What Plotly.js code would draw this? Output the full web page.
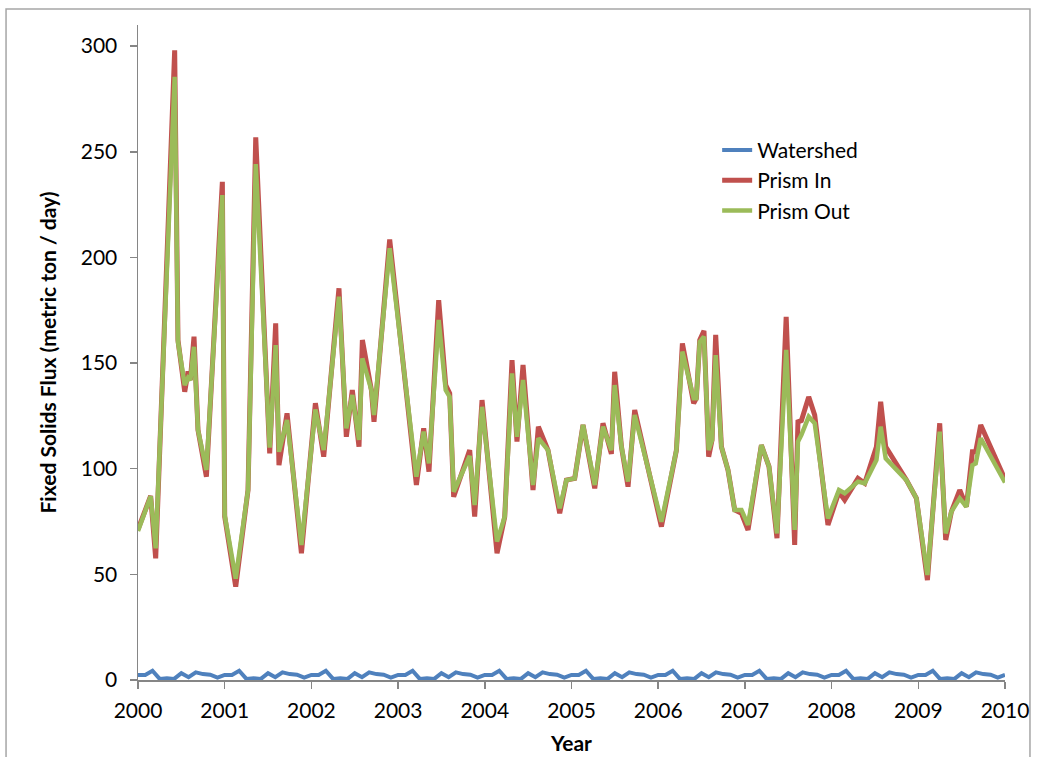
<!DOCTYPE html>
<html>
<head>
<meta charset="utf-8">
<script src="https://cdn.plot.ly/plotly-3.0.1.min.js"></script>
<style>
  html, body { margin: 0; padding: 0; background: #ffffff; }
  #chart { width: 1037px; height: 757px; }
</style>
</head>
<body>
<div id="chart"></div>
<script>
// ---- Data ----
const seriesNames = ["Watershed", "Prism In", "Prism Out"];
const yearTicks = [2000, 2001, 2002, 2003, 2004, 2005, 2006, 2007, 2008, 2009, 2010];
const fluxTicks = [0, 50, 100, 150, 200, 250, 300];

// Watershed: monthly values, Jan 2000 .. Jan 2010
const watershedX = [];
for (let i = 0; i <= 120; i++) watershedX.push(2000 + i / 12);
const watershedY = [
  2.4, 2.4, 4.4, 0.5, 0.8, 0.5, 3.2, 1.3, 3.6, 2.8, 2.5, 1.1,
  2.4, 2.4, 4.4, 0.5, 0.8, 0.5, 3.2, 1.3, 3.6, 2.8, 2.5, 1.1,
  2.4, 2.4, 4.4, 0.5, 0.8, 0.5, 3.2, 1.3, 3.6, 2.8, 2.5, 1.1,
  2.4, 2.4, 4.4, 0.5, 0.8, 0.5, 3.2, 1.3, 3.6, 2.8, 2.5, 1.1,
  2.4, 2.4, 4.4, 0.5, 0.8, 0.5, 3.2, 1.3, 3.6, 2.8, 2.5, 1.1,
  2.4, 2.4, 4.4, 0.5, 0.8, 0.5, 3.2, 1.3, 3.6, 2.8, 2.5, 1.1,
  2.4, 2.4, 4.4, 0.5, 0.8, 0.5, 3.2, 1.3, 3.6, 2.8, 2.5, 1.1,
  2.4, 2.4, 4.4, 0.5, 0.8, 0.5, 3.2, 1.3, 3.6, 2.8, 2.5, 1.1,
  2.4, 2.4, 4.4, 0.5, 0.8, 0.5, 3.2, 1.3, 3.6, 2.8, 2.5, 1.1,
  2.4, 2.4, 4.4, 0.5, 0.8, 0.5, 3.2, 1.3, 3.6, 2.8, 2.5, 1.1,
  2.4
];

// Prism sample dates (decimal years)
const prismX = [
  2000.000, 2000.146, 2000.204, 2000.423, 2000.461, 2000.539, 2000.577, 2000.604, 2000.646, 2000.692,
  2000.789, 2000.973, 2001.000, 2001.127, 2001.269, 2001.358, 2001.519, 2001.588, 2001.626, 2001.719,
  2001.885, 2002.046, 2002.142, 2002.318, 2002.403, 2002.472, 2002.549, 2002.588, 2002.692, 2002.722,
  2002.903, 2003.211, 2003.295, 2003.356, 2003.468, 2003.549, 2003.595, 2003.641, 2003.826, 2003.883,
  2003.968, 2004.141, 2004.230, 2004.314, 2004.371, 2004.441, 2004.556, 2004.618, 2004.729, 2004.864,
  2004.941, 2005.037, 2005.133, 2005.268, 2005.363, 2005.460, 2005.498, 2005.576, 2005.652, 2005.729,
  2006.037, 2006.210, 2006.279, 2006.409, 2006.440, 2006.479, 2006.528, 2006.582, 2006.621, 2006.663,
  2006.729, 2006.805, 2006.882, 2006.960, 2007.036, 2007.190, 2007.278, 2007.370, 2007.476, 2007.574,
  2007.612, 2007.652, 2007.736, 2007.805, 2007.958, 2008.085, 2008.151, 2008.304, 2008.382, 2008.517,
  2008.566, 2008.624, 2008.863, 2008.978, 2009.105, 2009.247, 2009.316, 2009.382, 2009.478, 2009.555,
  2009.624, 2009.662, 2009.720, 2010.000
];
const prismIn = [
  71.3, 87.1, 57.6, 298.0, 160.9, 136.4, 146.0, 142.0, 162.5, 118.3,
  96.2, 235.8, 77.3, 44.2, 89.9, 256.8, 107.3, 168.8, 101.7, 126.2,
  60.0, 131.0, 105.7, 185.4, 115.1, 137.2, 110.4, 160.9, 137.2, 122.2,
  208.5, 92.3, 119.1, 98.6, 179.8, 139.6, 135.7, 86.7, 108.8, 77.3,
  132.5, 60.0, 77.3, 151.4, 112.8, 149.1, 89.9, 119.9, 108.8, 78.9,
  94.6, 95.4, 120.7, 90.7, 121.5, 107.0, 145.9, 110.4, 91.5, 127.8,
  72.6, 108.8, 159.3, 131.0, 133.3, 160.9, 165.3, 105.7, 113.6, 163.3,
  110.4, 99.4, 80.5, 78.9, 71.0, 111.2, 101.0, 67.1, 171.9, 63.9,
  122.2, 122.8, 134.0, 125.4, 73.4, 89.0, 85.2, 95.4, 93.1, 110.4,
  131.7, 110.4, 94.6, 86.0, 47.3, 121.5, 66.3, 79.7, 89.9, 82.0,
  108.0, 108.0, 120.7, 95.0
];
const prismOut = [
  70.5, 87.0, 62.3, 285.5, 160.0, 139.6, 143.0, 142.0, 157.7, 118.3,
  99.4, 229.5, 78.0, 48.0, 89.9, 244.2, 110.0, 158.5, 108.0, 123.0,
  63.9, 128.0, 108.8, 181.4, 119.1, 134.9, 113.6, 152.2, 137.2, 125.4,
  204.3, 96.2, 117.5, 102.5, 170.4, 137.2, 134.0, 89.1, 106.0, 82.8,
  129.3, 65.5, 77.3, 145.1, 115.1, 142.0, 92.3, 114.4, 108.8, 81.3,
  94.6, 95.4, 120.7, 92.3, 119.9, 108.8, 139.6, 110.4, 93.9, 125.4,
  74.9, 108.8, 155.4, 133.3, 133.3, 160.0, 162.5, 108.8, 113.6, 153.8,
  110.4, 99.4, 80.5, 80.5, 73.4, 111.2, 101.0, 69.4, 156.2, 71.0,
  112.8, 116.0, 124.6, 121.5, 76.5, 89.9, 88.4, 93.9, 93.1, 104.1,
  119.9, 104.9, 94.6, 86.0, 49.7, 117.5, 69.4, 79.7, 86.0, 82.0,
  101.7, 102.5, 114.4, 93.5
];

// ---- Chart ----
const FONT = "Lato, 'Open Sans', 'DejaVu Sans', sans-serif";
const traces = [
  { x: watershedX, y: watershedY, name: seriesNames[0], type: "scatter", mode: "lines",
    line: { color: "#4F81BD", width: 4 } },
  { x: prismX, y: prismIn, name: seriesNames[1], type: "scatter", mode: "lines",
    line: { color: "#C0504D", width: 5 } },
  { x: prismX, y: prismOut, name: seriesNames[2], type: "scatter", mode: "lines",
    line: { color: "#9BBB59", width: 4.5 } }
];

const axisCommon = {
  showgrid: false, zeroline: false, showline: true,
  linecolor: "#868686", linewidth: 1.5,
  ticks: "outside", ticklen: 7, tickwidth: 1.5, tickcolor: "#868686",
  tickfont: { family: FONT, size: 21, color: "#000000" }
};

const layout = {
  width: 1037, height: 757,
  margin: { l: 138, r: 32, t: 25, b: 77 },
  paper_bgcolor: "#ffffff", plot_bgcolor: "#ffffff",
  font: { family: FONT, color: "#000000" },
  showlegend: true,
  legend: {
    x: 0.668, y: 0.840, xanchor: "left", yanchor: "top",
    bgcolor: "rgba(0,0,0,0)", borderwidth: 0,
    font: { family: FONT, size: 21, color: "#000000" },
    tracegroupgap: 0
  },
  xaxis: Object.assign({}, axisCommon, {
    range: [2000, 2010], tickvals: yearTicks, ticktext: yearTicks.map(String),
    ticklabelstandoff: 4,
    title: { text: "Year", font: { family: FONT, size: 21, color: "#000000", weight: "bold" }, standoff: 15 }
  }),
  yaxis: Object.assign({}, axisCommon, {
    range: [0, 310], tickvals: fluxTicks, ticktext: fluxTicks.map(String),
    ticklabelstandoff: 8,
    title: { text: "Fixed Solids Flux (metric ton / day)", font: { family: FONT, size: 21, color: "#000000", weight: "bold" }, standoff: 18 }
  }),
  shapes: [
    { type: "rect", xref: "paper", yref: "paper",
      x0: -0.1522, x1: 1.0288, y0: -0.125, y1: 1.0244,
      line: { color: "#a6a6a6", width: 1.5 }, fillcolor: "rgba(0,0,0,0)", layer: "below" }
  ]
};

Plotly.newPlot("chart", traces, layout, { displayModeBar: false, staticPlot: true });
</script>
</body>
</html>
